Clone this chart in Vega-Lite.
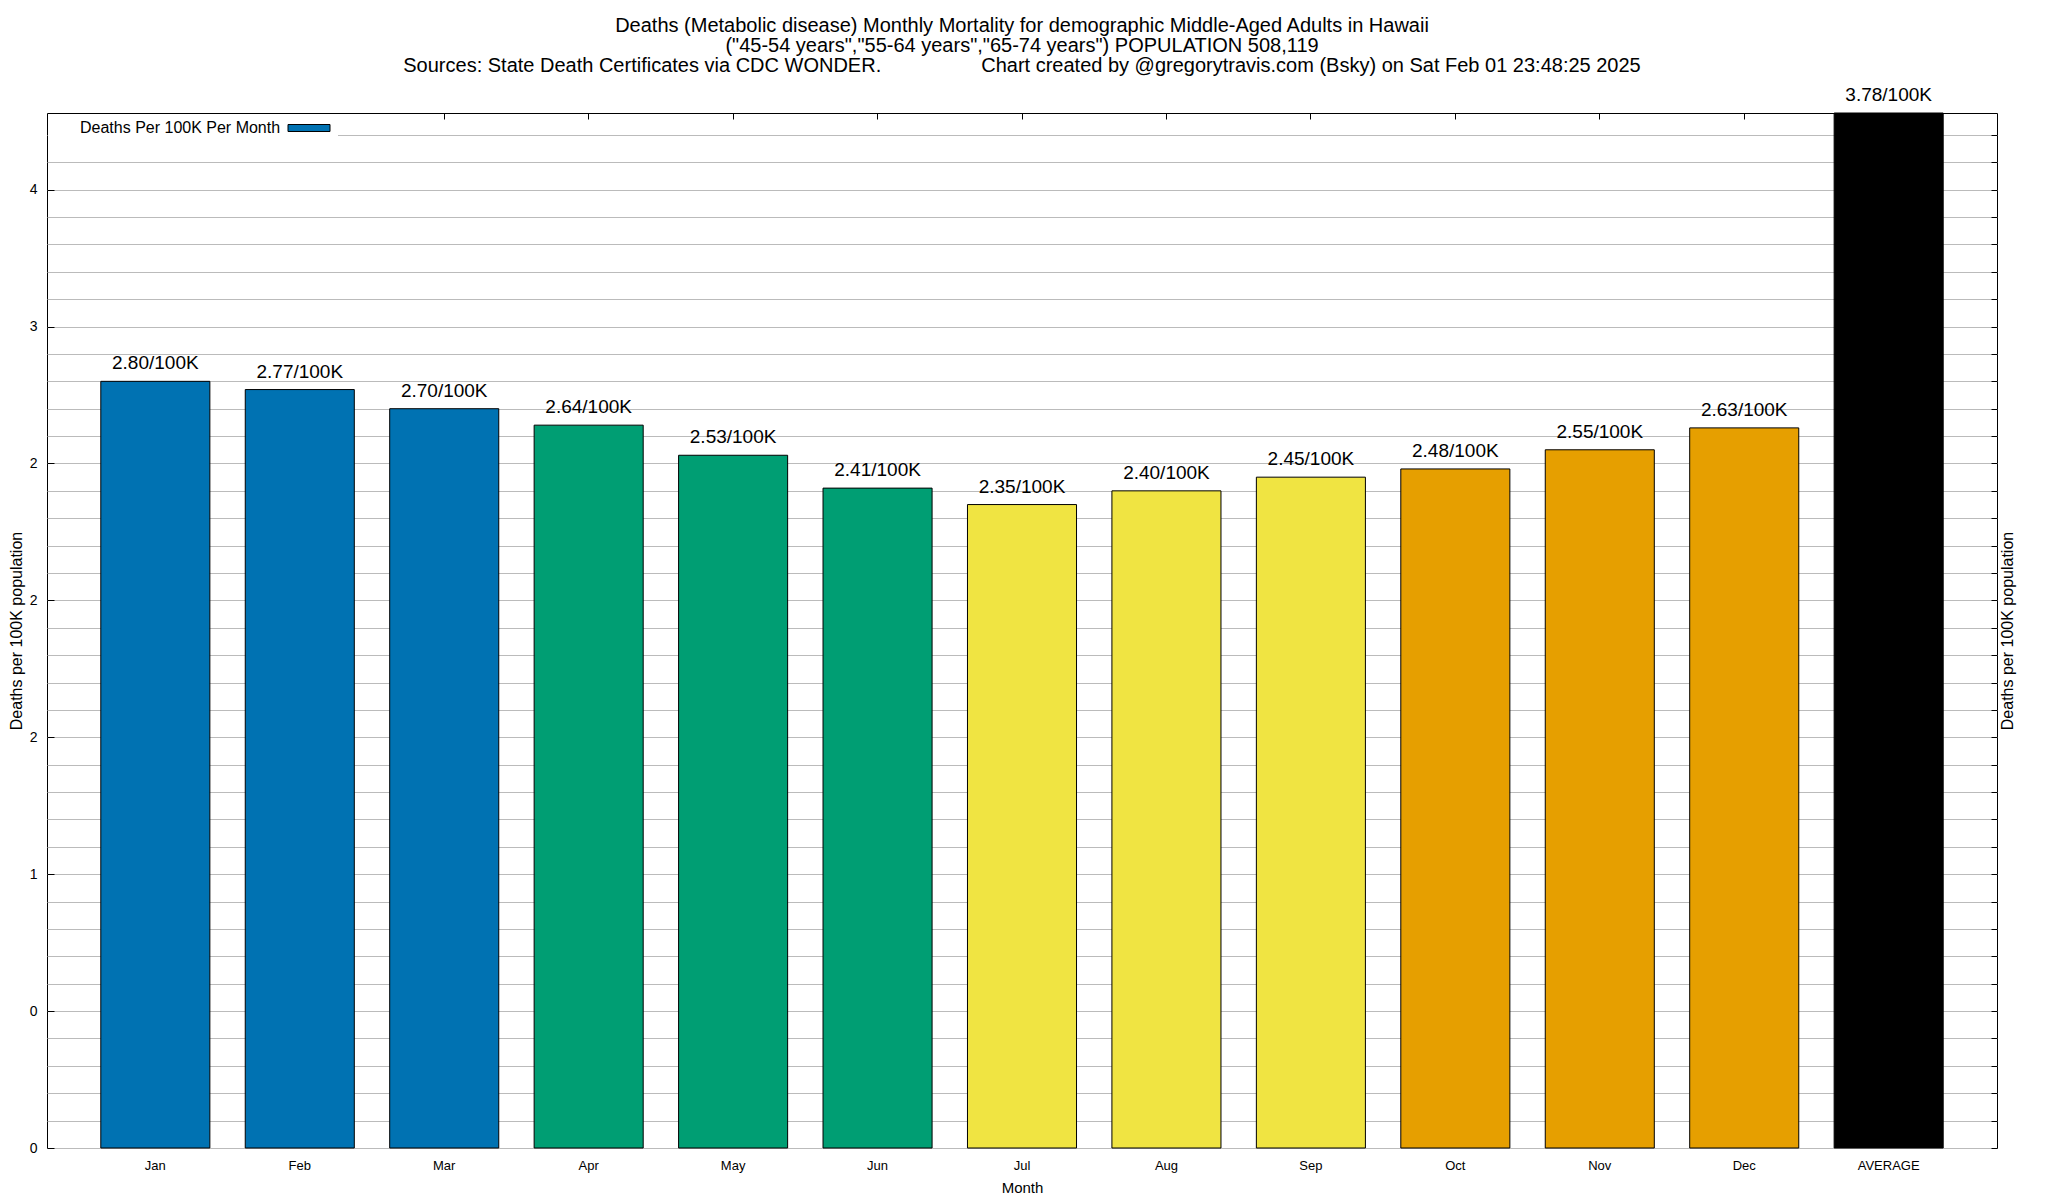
{
  "$schema": "https://vega.github.io/schema/vega-lite/v6.json",
  "width": 1950,
  "height": 1035,
  "autosize": {"type": "none"},
  "padding": {"left": 47, "top": 113, "right": 51, "bottom": 52},
  "background": "white",
  "config": {"font": "Liberation Sans", "view": {"stroke": "black", "strokeWidth": 1}},
  "title": {
    "text": [
      "Deaths (Metabolic disease) Monthly Mortality for demographic Middle-Aged Adults in Hawaii",
      "(\"45-54 years\",\"55-64 years\",\"65-74 years\") POPULATION 508,119",
      "Sources: State Death Certificates via CDC WONDER. \u00a0\u00a0\u00a0\u00a0\u00a0\u00a0\u00a0\u00a0\u00a0\u00a0\u00a0\u00a0\u00a0\u00a0\u00a0\u00a0 Chart created by @gregorytravis.com (Bsky) on Sat Feb 01 23:48:25 2025"
    ],
    "fontSize": 20,
    "fontWeight": "normal",
    "lineHeight": 20,
    "anchor": "middle",
    "offset": 10,
    "color": "black"
  },
  "data": {
    "values": [
      {"month": "Jan", "value": 2.80, "label": "2.80/100K", "quarter": "Q1"},
      {"month": "Feb", "value": 2.77, "label": "2.77/100K", "quarter": "Q1"},
      {"month": "Mar", "value": 2.70, "label": "2.70/100K", "quarter": "Q1"},
      {"month": "Apr", "value": 2.64, "label": "2.64/100K", "quarter": "Q2"},
      {"month": "May", "value": 2.53, "label": "2.53/100K", "quarter": "Q2"},
      {"month": "Jun", "value": 2.41, "label": "2.41/100K", "quarter": "Q2"},
      {"month": "Jul", "value": 2.35, "label": "2.35/100K", "quarter": "Q3"},
      {"month": "Aug", "value": 2.40, "label": "2.40/100K", "quarter": "Q3"},
      {"month": "Sep", "value": 2.45, "label": "2.45/100K", "quarter": "Q3"},
      {"month": "Oct", "value": 2.48, "label": "2.48/100K", "quarter": "Q4"},
      {"month": "Nov", "value": 2.55, "label": "2.55/100K", "quarter": "Q4"},
      {"month": "Dec", "value": 2.63, "label": "2.63/100K", "quarter": "Q4"},
      {"month": "AVERAGE", "value": 3.78, "label": "3.78/100K", "quarter": "Average"}
    ]
  },
  "resolve": {"scale": {"color": "independent"}, "axis": {"x": "independent", "y": "independent"}},
  "layer": [
    {
      "mark": {"type": "bar", "stroke": "black", "strokeWidth": 1},
      "encoding": {
        "x": {
          "field": "month", "type": "nominal", "sort": null,
          "scale": {"paddingInner": 0.245, "paddingOuter": 0.3725},
          "axis": {"orient": "bottom", "title": "Month", "labelAngle": 0, "ticks": false, "domain": false,
                   "labelFontSize": 13, "labelPadding": 11, "labelColor": "black",
                   "titleFontSize": 15, "titleFontWeight": "normal", "titlePadding": 8, "titleColor": "black"}
        },
        "y": {
          "field": "value", "type": "quantitative",
          "scale": {"domain": [0, 3.78], "nice": false},
          "axis": {
            "orient": "left",
            "values": [0, 0.1, 0.2, 0.3, 0.4, 0.5, 0.6, 0.7, 0.8, 0.9, 1.0, 1.1, 1.2, 1.3, 1.4, 1.5, 1.6, 1.7, 1.8, 1.9, 2.0, 2.1, 2.2, 2.3, 2.4, 2.5, 2.6, 2.7, 2.8, 2.9, 3.0, 3.1, 3.2, 3.3, 3.4, 3.5, 3.6, 3.7],
            "grid": true, "gridColor": "#bbbbbb", "gridWidth": 1, "domain": false,
            "tickSize": -7,
            "tickColor": {"condition": {"test": "round(datum.value*10) % 5 == 0", "value": "black"}, "value": "transparent"},
            "labelExpr": "round(datum.value*10) % 5 != 0 ? '' : (round(datum.value*10) == 5 ? '0' : (round(datum.value*10) == 25 ? '2' : format(datum.value, '.0f')))",
            "labelFontSize": 14, "labelPadding": 17, "labelColor": "black",
            "title": "Deaths per 100K population", "titleFontSize": 16, "titleFontWeight": "normal", "titlePadding": 5, "titleColor": "black"
          }
        },
        "color": {
          "field": "quarter", "type": "nominal",
          "scale": {"domain": ["Q1", "Q2", "Q3", "Q4", "Average"], "range": ["#0072B2", "#009E73", "#F0E442", "#E69F00", "#000000"]},
          "legend": null
        }
      }
    },
    {
      "mark": {"type": "text", "fontSize": 19, "dy": -18, "baseline": "middle", "color": "black"},
      "encoding": {
        "x": {
          "field": "month", "type": "nominal", "sort": null,
          "scale": {"paddingInner": 0.245, "paddingOuter": 0.3725},
          "axis": {"orient": "top", "labels": false, "domain": false, "ticks": true, "tickSize": -6, "tickColor": "black", "title": null, "grid": false}
        },
        "y": {
          "field": "value", "type": "quantitative",
          "scale": {"domain": [0, 3.78], "nice": false},
          "axis": {
            "orient": "right",
            "values": [0, 0.1, 0.2, 0.3, 0.4, 0.5, 0.6, 0.7, 0.8, 0.9, 1.0, 1.1, 1.2, 1.3, 1.4, 1.5, 1.6, 1.7, 1.8, 1.9, 2.0, 2.1, 2.2, 2.3, 2.4, 2.5, 2.6, 2.7, 2.8, 2.9, 3.0, 3.1, 3.2, 3.3, 3.4, 3.5, 3.6, 3.7],
            "grid": false, "domain": false, "labels": false,
            "tickSize": -6, "tickColor": "black",
            "title": "Deaths per 100K population", "titleAngle": 270, "titleFontSize": 16, "titleFontWeight": "normal", "titlePadding": 18, "titleColor": "black"
          }
        },
        "text": {"field": "label"}
      }
    },
    {
      "data": {"values": []},
      "mark": {"type": "bar", "stroke": "black"},
      "encoding": {
        "color": {
          "datum": "Deaths Per 100K Per Month",
          "scale": {"range": ["#0072B2"]},
          "legend": {
            "orient": "none", "legendX": 1, "legendY": 1, "title": null, "padding": 6,
            "fillColor": "white", "strokeColor": null,
            "symbolType": "M-6,-1H6V1H-6Z", "symbolSize": 49,
            "symbolStrokeColor": "black", "symbolStrokeWidth": 1,
            "symbolOffset": 247, "labelOffset": -237, "labelLimit": 400,
            "labelFontSize": 16, "labelColor": "black"
          }
        }
      }
    }
  ]
}
